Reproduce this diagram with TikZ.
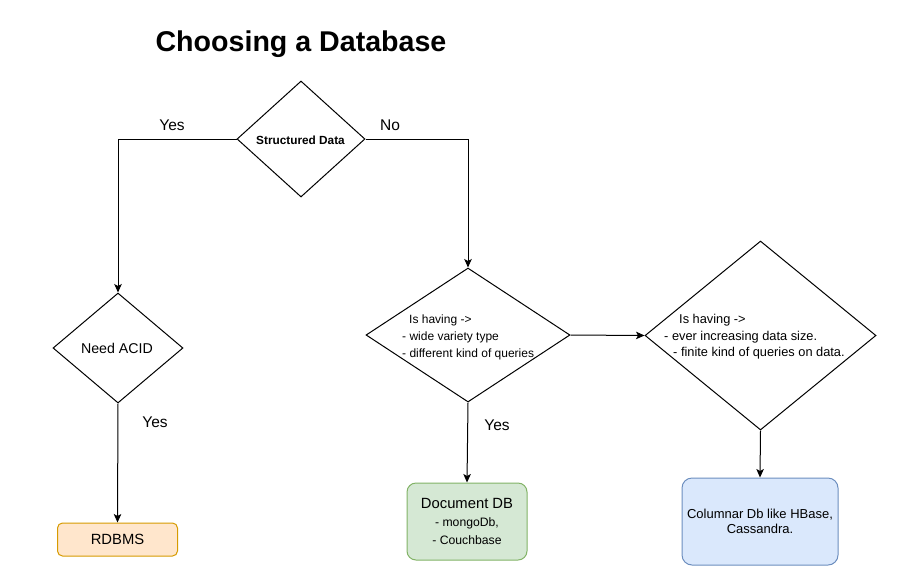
\documentclass[tikz,border=0pt]{standalone}
\usepackage{fontspec}
\setmainfont{Liberation Sans}
\usetikzlibrary{arrows.meta,shapes.geometric}
\definecolor{orfill}{HTML}{FFE6CC}
\definecolor{ordraw}{HTML}{D79B00}
\definecolor{grfill}{HTML}{D5E8D4}
\definecolor{grdraw}{HTML}{82B366}
\definecolor{blfill}{HTML}{DAE8FC}
\definecolor{bldraw}{HTML}{6C8EBF}
\tikzset{
  dec/.style={diamond, draw=black, line width=1pt, inner sep=0pt, aspect=1},
  boxnode/.style={rectangle, line width=1pt, inner sep=0pt, align=center},
  conn/.style={draw=black, line width=1pt, -{Stealth[length=8.5pt,width=7.5pt,inset=2pt]}},
  lbl/.style={inner sep=0pt, anchor=base, font=\fontsize{15.5}{18}\selectfont},
  dtext/.style={inner sep=0pt, anchor=west, align=left},
}
\begin{document}
\begin{tikzpicture}[x=1pt,y=-1pt]
\useasboundingbox (0,0) rectangle (912,582);
\fill[white] (0,0) rectangle (912,582);

\node[inner sep=0pt, anchor=base, font=\bfseries\fontsize{28.6}{32}\selectfont] (title) at (301,51.5) {Choosing a Database};

\node[dec, minimum width=128pt, minimum height=116pt] (sd) at (301,139) {};
\node[inner sep=0pt, anchor=base, font=\bfseries\fontsize{11.8}{14}\selectfont] (sdt) at (300.5,144) {Structured Data};

\node[dec, minimum width=130pt, minimum height=110pt] (acid) at (118,348) {};
\node[inner sep=0pt, anchor=base, font=\fontsize{14.2}{17}\selectfont] (acidt) at (117,353.5) {Need ACID};

\node[dec, minimum width=204pt, minimum height=134pt] (d2) at (468,335) {};
\node[dtext, font=\fontsize{12}{17}\selectfont] (d2t) at (402,337) {\hspace*{7pt}Is having ->\\- wide variety type\\- different kind of queries};

\node[dec, minimum width=231pt, minimum height=189pt] (d3) at (760.5,335.5) {};
\node[dtext, font=\fontsize{12.8}{16.5}\selectfont] (d3t) at (664,337) {\hspace*{15pt}Is having ->\\- ever increasing data size.\\\hspace*{9pt}- finite kind of queries on data.};

\node[boxnode, draw=ordraw, fill=orfill, rounded corners=5pt, minimum width=120pt, minimum height=33pt, font=\fontsize{14.8}{17}\selectfont] (rdbms) at (117.5,539.5) {RDBMS};

\node[boxnode, draw=grdraw, fill=grfill, rounded corners=9pt, minimum width=120pt, minimum height=77pt, font=\fontsize{12.2}{18}\selectfont] (doc) at (467,521.5) {{\fontsize{14.8}{18}\selectfont Document DB}\\- mongoDb,\\- Couchbase};

\node[boxnode, draw=bldraw, fill=blfill, rounded corners=10pt, minimum width=156pt, minimum height=87pt, font=\fontsize{13}{14.5}\selectfont] (col) at (760,521.5) {Columnar Db like HBase,\\Cassandra.};

\draw[conn] (sd.west) -| (acid.north);
\draw[conn] (sd.east) -| (d2.north);
\draw[conn] (acid.south) -- (rdbms.north);
\draw[conn] (d2.south) -- (doc.north);
\draw[conn] (d2.east) -- (d3.west);
\draw[conn] (d3.south) -- (col.north);

\node[lbl] (yes1) at (172,130.5) {Yes};
\node[lbl] (no1) at (390,130.5) {No};
\node[lbl] (yes2) at (155,427.5) {Yes};
\node[lbl] (yes3) at (497,430.5) {Yes};
\end{tikzpicture}
\end{document}
